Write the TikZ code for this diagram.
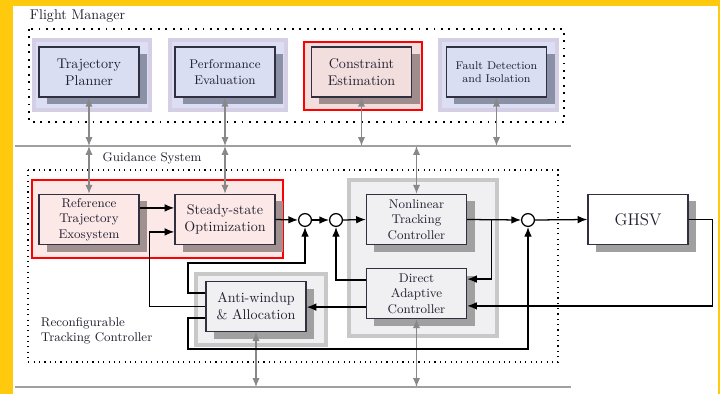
\documentclass[tikz,border=0pt]{standalone}
\usepackage{xcolor}
\usetikzlibrary{arrows.meta,shadows}
\definecolor{bgyellow}{HTML}{FFC90E}
\definecolor{nodeline}{HTML}{303040}
\definecolor{nodetext}{HTML}{202030}
\definecolor{blufill}{HTML}{DADEF2}
\definecolor{blushade}{HTML}{8A90A6}
\definecolor{haloline}{HTML}{D5CFE6}
\definecolor{halofill}{HTML}{DCDFF3}
\definecolor{redfill}{HTML}{F3DEDE}
\definecolor{redshade}{HTML}{A08C8C}
\definecolor{pinkfill}{HTML}{FDE8E8}
\definecolor{pinkshade}{HTML}{A09090}
\definecolor{greyline}{HTML}{C8C8C8}
\definecolor{greyfill}{HTML}{F0F0F2}
\definecolor{greyshade}{HTML}{A0A0A0}
\definecolor{busgrey}{HTML}{A0A0A0}
\definecolor{linkgrey}{HTML}{888888}

\begin{document}
\begin{tikzpicture}[x=0.025cm,y=-0.025cm,
	blk/.style={draw=nodeline,line width=1pt,minimum width=2.5cm,minimum height=1.25cm,inner sep=1pt,align=center,font=\small,text=nodetext},
	blu/.style={blk,fill=blufill,drop shadow={shadow xshift=0.2cm,shadow yshift=-0.175cm,fill=blushade,opacity=1}},
	rdb/.style={blk,fill=redfill,drop shadow={shadow xshift=0.2cm,shadow yshift=-0.175cm,fill=redshade,opacity=1}},
	pnk/.style={blk,fill=pinkfill,drop shadow={shadow xshift=0.2cm,shadow yshift=-0.175cm,fill=pinkshade,opacity=1}},
	gry/.style={blk,fill=greyfill,drop shadow={shadow xshift=0.2cm,shadow yshift=-0.175cm,fill=greyshade,opacity=1}},
	wht/.style={blk,fill=white,drop shadow={shadow xshift=0.2cm,shadow yshift=-0.175cm,fill=greyshade,opacity=1}},
	sumc/.style={circle,draw=black,fill=white,line width=0.9pt,minimum size=0.32cm,inner sep=0pt},
	sig/.style={line width=0.9pt,-{Latex[length=2.4mm,width=1.9mm]}},
	link/.style={draw=linkgrey,line width=0.9pt,{Latex[length=2.2mm,width=1.8mm]}-{Latex[length=2.2mm,width=1.8mm]}},
	halo/.style={draw=haloline,fill=halofill,line width=2.8pt},
	ghalo/.style={draw=greyline,fill=greyfill,line width=2.8pt},
	bus/.style={draw=busgrey,line width=2pt}]
	\useasboundingbox (0,0) rectangle (720,394);
	\fill[bgyellow] (0,0) rectangle (720,394);
	\fill[white] (13,6) rectangle (718,394);

	\draw[halo] (34,40) rectangle (150,110);
	\draw[halo] (170,40) rectangle (286,110);
	\draw[red,fill=redfill,line width=1.6pt] (304,42) rectangle (422,110);
	\draw[halo] (440,40) rectangle (557,110);
	\draw[line width=1.3pt,dash pattern=on 1.3pt off 4pt] (29,29) rectangle (564,122);
	\node[anchor=west,text=nodetext] (fmlabel) at (25,16) {Flight Manager};

	\draw[line width=0.8pt,dash pattern=on 0.8pt off 3pt] (28,170) rectangle (558,362);
	\draw[red,fill=pinkfill,line width=1.6pt] (32,180) rectangle (283,258);
	\draw[ghalo] (349,180) rectangle (497,336);
	\draw[ghalo] (196,274) rectangle (326,345);
	\node[font=\small,text=nodetext] (gslabel) at (152,158) {Guidance System};
	\node[anchor=west,align=left,font=\small,text=nodetext] (rtclabel) at (36,331) {Reconfigurable\\Tracking Controller};

	\coordinate (busA) at (15,146);
	\coordinate (busB) at (15,387);
	\draw[bus] (busA) -- (571,146);
	\draw[bus] (busB) -- (571,387);

	\node[blu,font=\normalsize] (plan) at (89,72) {Trajectory\\Planner};
	\node[blu] (perf) at (225,72) {Performance\\Evaluation};
	\node[rdb,font=\normalsize] (cons) at (361.5,72) {Constraint\\Estimation};
	\node[blu,font=\footnotesize] (fdi) at (496.5,72) {Fault Detection\\and Isolation};

	\node[pnk] (ref) at (89,219.5) {Reference\\Trajectory\\Exosystem};
	\node[pnk,font=\normalsize] (ssopt) at (225,219.5) {Steady-state\\Optimization};
	\node[gry] (ntc) at (416.5,219.5) {Nonlinear\\Tracking\\Controller};
	\node[gry] (dac) at (416.5,293.5) {Direct\\Adaptive\\Controller};
	\node[gry,font=\normalsize] (aw) at (256,306.5) {Anti-windup\\\& Allocation};
	\node[wht,font=\large] (ghsv) at (638,219.5) {GHSV};

	\node[sumc] (s1) at (305,220) {};
	\node[sumc] (s2) at (336,220) {};
	\node[sumc] (s3) at (528,220) {};

	\draw[link] (plan.south) -- (plan.south |- busA);
	\draw[link] (plan.south |- busA) -- (ref.north);
	\draw[link] (perf.south) -- (perf.south |- busA);
	\draw[link] (perf.south |- busA) -- (ssopt.north);
	\draw[link] (cons.south) -- (cons.south |- busA);
	\draw[link] (fdi.south) -- (fdi.south |- busA);
	\draw[link] (ntc.north |- busA) -- (ntc.north);
	\draw[link] (aw.south) -- (aw.south |- busB);
	\draw[link] (dac.south) -- (dac.south |- busB);

	\draw[sig] ([yshift=0.29cm]ref.east) -- ([yshift=0.29cm]ssopt.west);
	\draw[sig] (aw.west) -- ++(-1.4cm,0) |- ([yshift=-0.31cm]ssopt.west);
	\draw[sig] (ssopt.east) -- (s1.west);
	\draw[sig] (s1.east) -- (s2.west);
	\draw[sig] (s2.east) -- (ntc.west);
	\draw[sig] ([yshift=0.34cm]aw.west) -| (188,263) -| (s1.south);
	\draw[sig] ([yshift=-0.29cm]aw.west) -| (188,349) -| (s3.south);
	\draw[sig] ([yshift=0.34cm]dac.west) -| (s2.south);
	\draw[sig] ([yshift=-0.34cm]dac.west) -- ([yshift=-0.34cm]dac.west -| aw.east);
	\draw[sig] (ntc.east) -- (s3.west);
	\draw[sig] ([xshift=0.6cm]ntc.east) |- ([yshift=0.36cm]dac.east);
	\draw[sig] (s3.east) -- (ghsv.west);
	\draw[sig] (ghsv.east) -- ++(0.6cm,0) |- ([yshift=-0.31cm]dac.east);
\end{tikzpicture}
\end{document}
